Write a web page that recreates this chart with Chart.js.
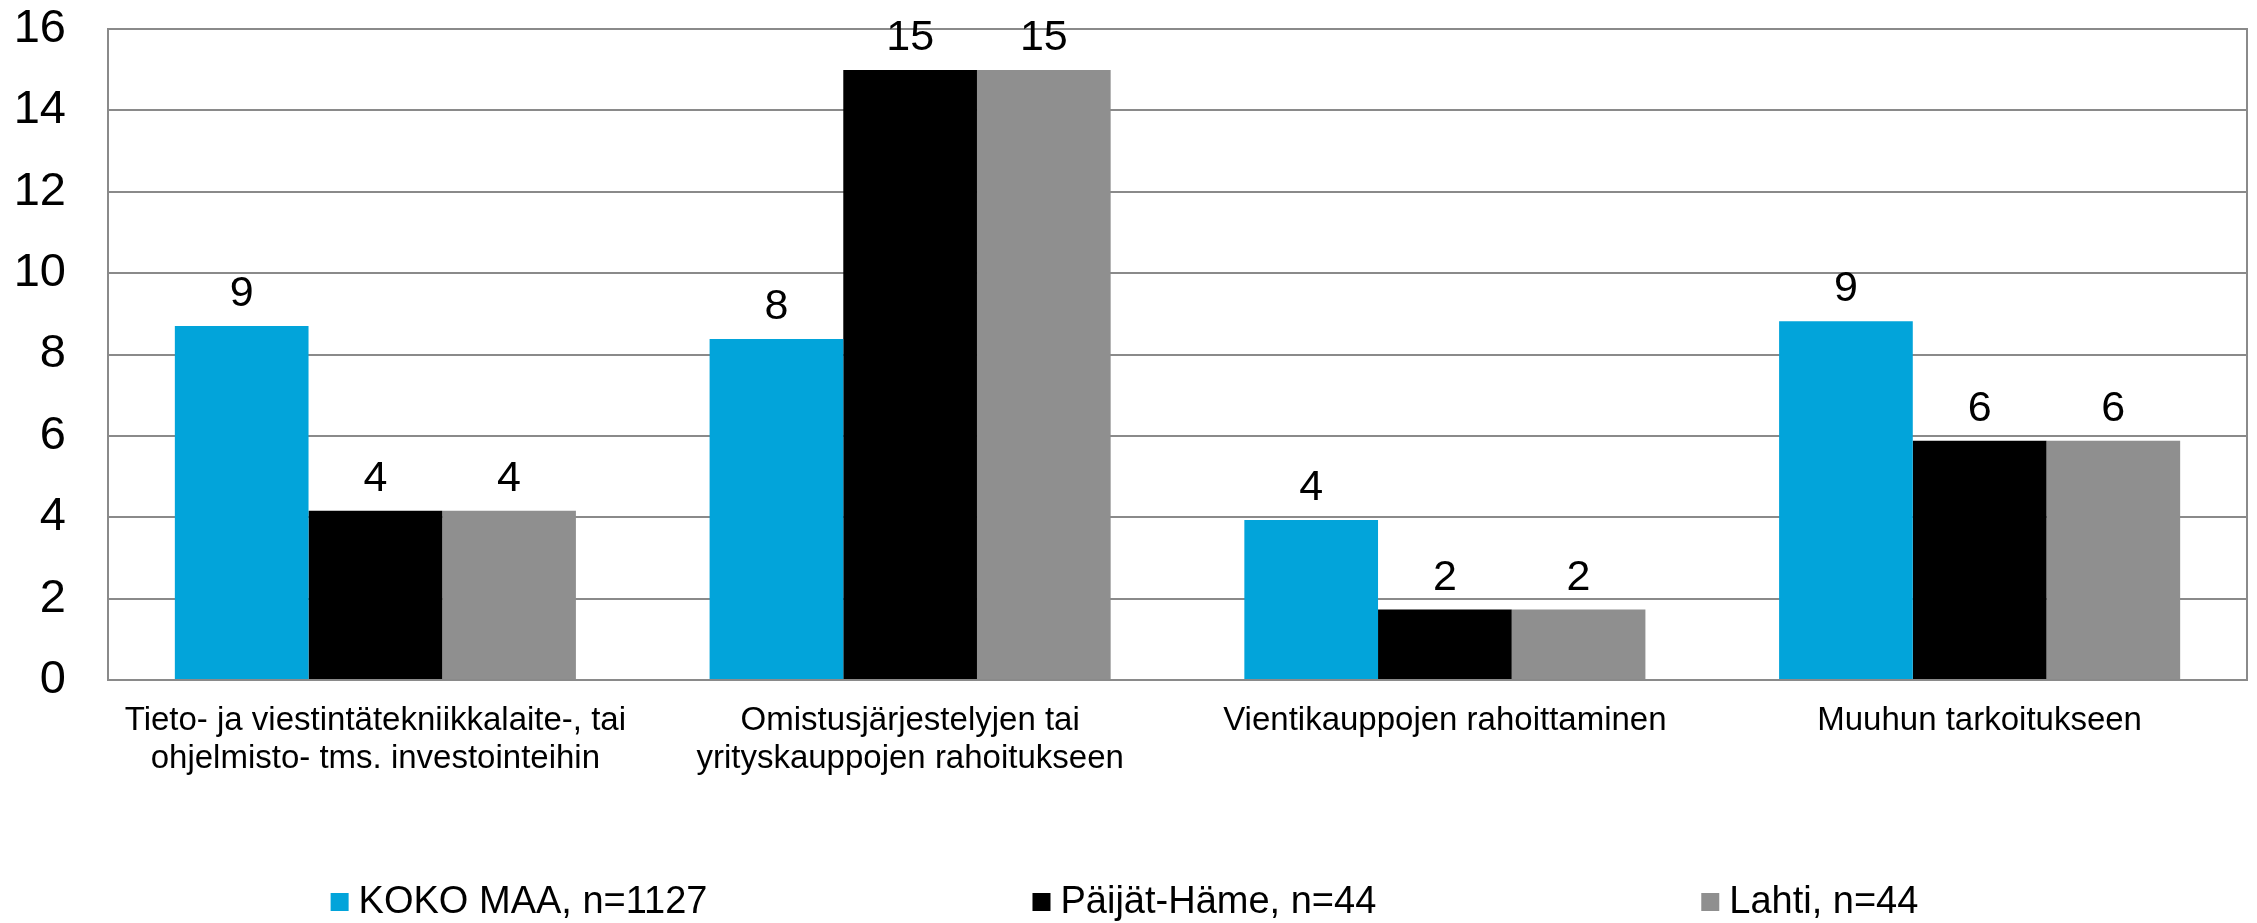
<!DOCTYPE html>
<html>
<head>
<meta charset="utf-8">
<script src="https://cdn.jsdelivr.net/npm/chart.js@4/dist/chart.umd.min.js"></script>
<style>
  html, body { margin: 0; padding: 0; background: #fff; }
  #wrap { width: 2257px; height: 923px; position: relative; }
</style>
</head>
<body>
<div id="wrap"><canvas id="purposeChart"></canvas></div>
<script>
// Data
const categories = [
    ['Tieto- ja viestintätekniikkalaite-, tai', 'ohjelmisto- tms. investointeihin'],
    ['Omistusjärjestelyjen tai', 'yrityskauppojen rahoitukseen'],
    'Vientikauppojen rahoittaminen',
    'Muuhun tarkoitukseen'
];
const seriesNames = ['KOKO MAA, n=1127', 'Päijät-Häme, n=44', 'Lahti, n=44'];
const kokoMaa = [8.70, 8.38, 3.93, 8.82];
const paijatHame = [4.16, 14.99, 1.73, 5.88];
const lahti = [4.16, 14.99, 1.73, 5.88];
const yTicks = [0, 2, 4, 6, 8, 10, 12, 14, 16];

const colors = ['#02A4DA', '#000000', '#8F8F8F'];
const FONT = "'Liberation Sans', Arial, sans-serif";
const GRID = '#8A8A8A';

// arvot pylväiden päälle
const valueLabels = {
    id: 'valueLabels',
    afterDatasetsDraw(chart) {
        const ctx = chart.ctx;
        ctx.save();
        ctx.font = '43px ' + FONT;
        ctx.fillStyle = '#000';
        ctx.textAlign = 'center';
        ctx.textBaseline = 'alphabetic';
        chart.data.datasets.forEach((ds, i) => {
            chart.getDatasetMeta(i).data.forEach((bar, j) => {
                ctx.fillText(Math.round(ds.data[j]), bar.x, bar.y - 20);
            });
        });
        ctx.restore();
    }
};

// oikea reuna kehykselle
const frame = {
    id: 'frame',
    beforeDatasetsDraw(chart) {
        const a = chart.chartArea, ctx = chart.ctx;
        ctx.save();
        ctx.strokeStyle = GRID;
        ctx.lineWidth = 2;
        ctx.beginPath();
        ctx.moveTo(a.right, a.top - 1);
        ctx.lineTo(a.right, a.bottom + 1);
        ctx.stroke();
        ctx.restore();
    }
};

// selite alas
const bottomLegend = {
    id: 'bottomLegend',
    afterDraw(chart) {
        const ctx = chart.ctx;
        ctx.save();
        ctx.font = '38px ' + FONT;
        ctx.textBaseline = 'middle';
        ctx.textAlign = 'left';
        const box = 18, gapText = 10, gapItem = 325, y = 902;
        const widths = chart.data.datasets.map(ds => box + gapText + ctx.measureText(ds.label).width);
        const total = widths.reduce((a, b) => a + b, 0) + gapItem * (widths.length - 1);
        let x = chart.width / 2 - 4 - total / 2;
        chart.data.datasets.forEach((ds, i) => {
            ctx.fillStyle = ds.backgroundColor;
            ctx.fillRect(x, y - box / 2, box, box);
            ctx.fillStyle = '#000';
            ctx.fillText(ds.label, x + box + gapText, y + 1);
            x += widths[i] + gapItem;
        });
        ctx.restore();
    }
};

const chart = new Chart(document.getElementById('purposeChart'), {
    type: 'bar',
    data: {
        labels: categories,
        datasets: [
            { label: seriesNames[0], data: kokoMaa, backgroundColor: colors[0] },
            { label: seriesNames[1], data: paijatHame, backgroundColor: colors[1] },
            { label: seriesNames[2], data: lahti, backgroundColor: colors[2] }
        ]
    },
    options: {
        responsive: true,
        maintainAspectRatio: false,
        animation: false,
        layout: { padding: { top: 29, right: 10, left: 0, bottom: 0 } },
        datasets: { bar: { categoryPercentage: 0.75, barPercentage: 1.0, borderWidth: 0 } },
        plugins: { legend: { display: false }, tooltip: { enabled: false } },
        scales: {
            x: {
                grid: { display: false },
                border: { display: true, color: GRID, width: 2 },
                ticks: { color: '#000', font: { family: FONT, size: 33, lineHeight: 1.15 }, padding: 14, maxRotation: 0, autoSkip: false },
                afterFit: s => { s.height = 243; s.paddingLeft = 0; s.paddingRight = 0; }
            },
            y: {
                min: 0,
                max: 16,
                afterBuildTicks: s => { s.ticks = yTicks.map(v => ({ value: v })); },
                grid: { color: GRID, lineWidth: 2, drawTicks: false },
                border: { display: true, color: GRID, width: 2 },
                ticks: { color: '#000', font: { family: FONT, size: 47 }, padding: 42 },
                afterFit: s => { s.width = 108; s.paddingTop = 0; s.paddingBottom = 0; }
            }
        }
    },
    plugins: [frame, valueLabels, bottomLegend]
});
</script>
</body>
</html>
